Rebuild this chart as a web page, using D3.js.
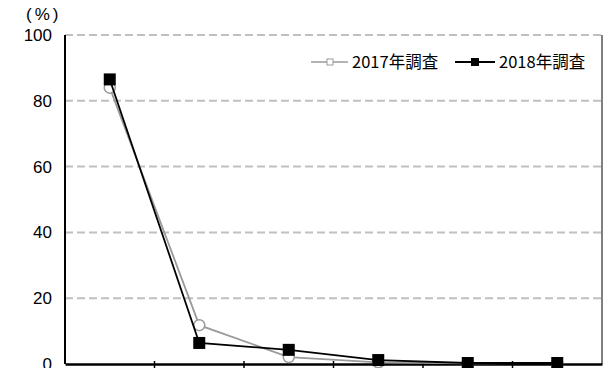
<!DOCTYPE html>
<html><head><meta charset="utf-8">
<script src="https://cdn.jsdelivr.net/npm/d3@7"></script>
<style>body{margin:0;background:#fff}svg{display:block}</style>
</head><body>
<svg id="c" width="604" height="368"></svg>
<script>
const categories = ["1", "2", "3", "4", "5", "6"];
const series2017 = [84.0, 11.8, 2.1, 0.5, 0.2, 0.3];
const series2018 = [86.5, 6.4, 4.3, 1.2, 0.3, 0.3];
const yTicks = [0, 20, 40, 60, 80, 100];
const seriesNames = ["2017年調査", "2018年調査"];

const svg = d3.select("#c");
const m = {l: 65, r: 602, t: 35, b: 364};
const x = d3.scaleBand().domain(categories).range([m.l, m.r]);
const y = d3.scaleLinear().domain([0, 100]).range([m.b, m.t]);

// gridlines
svg.append("g").selectAll("line").data(yTicks.filter(d => d > 0)).join("line")
  .attr("x1", m.l).attr("x2", m.r)
  .attr("y1", d => y(d)).attr("y2", d => y(d))
  .attr("stroke", "#c0c0c0").attr("stroke-width", 2).attr("stroke-dasharray", "8,4");

// y labels
svg.append("g").selectAll("text").data(yTicks).join("text")
  .attr("x", 52).attr("y", d => y(d) + 6)
  .attr("text-anchor", "end")
  .attr("font-family", "'Liberation Sans', Arial, sans-serif").attr("font-size", 17)
  .text(d => d);
svg.append("text").attr("x", 26).attr("y", 20)
  .attr("font-family", "'Liberation Sans', Arial, sans-serif").attr("font-size", 17)
  .attr("letter-spacing", 3)
  .text("(%)");

// axes
svg.append("line").attr("x1", m.l).attr("x2", m.l).attr("y1", m.t).attr("y2", m.b)
  .attr("stroke", "#000").attr("stroke-width", 2);
svg.append("line").attr("x1", m.r).attr("x2", m.r).attr("y1", m.t).attr("y2", m.b)
  .attr("stroke", "#000").attr("stroke-width", 1);
const xAxis = d3.axisBottom(x).tickSize(0).tickFormat(d => "");
svg.append("g").attr("transform", `translate(0,${m.b})`).call(xAxis)
  .call(g => g.select(".domain").attr("stroke-width", 2.5));
const bounds = categories.map(c => x(c)).concat([m.r]);
svg.append("g").selectAll("line").data(bounds.slice(1, -1)).join("line")
  .attr("x1", d => d).attr("x2", d => d).attr("y1", m.b - 3).attr("y2", m.b + 5)
  .attr("stroke", "#000").attr("stroke-width", 1.5);

const cx = c => x(c) + x.bandwidth() / 2;
const line = d3.line().x(d => cx(d.c)).y(d => y(d.v));
const d17 = categories.map((c, i) => ({c, v: series2017[i]}));
const d18 = categories.map((c, i) => ({c, v: series2018[i]}));

svg.append("path").datum(d17).attr("d", line).attr("fill", "none")
  .attr("stroke", "#9a9a9a").attr("stroke-width", 1.8);
svg.append("g").selectAll("circle").data(d17).join("circle")
  .attr("cx", d => cx(d.c)).attr("cy", d => y(d.v)).attr("r", 5.5)
  .attr("fill", "#fff").attr("stroke", "#9a9a9a").attr("stroke-width", 1.5);

svg.append("path").datum(d18).attr("d", line).attr("fill", "none")
  .attr("stroke", "#000").attr("stroke-width", 1.8);
svg.append("g").selectAll("rect").data(d18).join("rect")
  .attr("x", d => cx(d.c) - 6).attr("y", d => y(d.v) - 6)
  .attr("width", 12).attr("height", 12).attr("fill", "#000");

// legend
const lg = svg.append("g");
lg.append("line").attr("x1", 311).attr("x2", 348).attr("y1", 62).attr("y2", 62)
  .attr("stroke", "#9a9a9a").attr("stroke-width", 1.5);
lg.append("rect").attr("x", 327).attr("y", 59).attr("width", 6).attr("height", 6)
  .attr("fill", "#fff").attr("stroke", "#9a9a9a").attr("stroke-width", 1);
lg.append("text").attr("x", 352).attr("y", 68)
  .attr("font-family", "'Noto Sans CJK JP', sans-serif").attr("font-size", 16.5)
  .text(seriesNames[0]);
lg.append("line").attr("x1", 455).attr("x2", 495).attr("y1", 62).attr("y2", 62)
  .attr("stroke", "#000").attr("stroke-width", 2);
lg.append("rect").attr("x", 471).attr("y", 58).attr("width", 8).attr("height", 8)
  .attr("fill", "#000");
lg.append("text").attr("x", 499).attr("y", 68)
  .attr("font-family", "'Noto Sans CJK JP', sans-serif").attr("font-size", 16.5)
  .text(seriesNames[1]);
</script>
</body></html>
